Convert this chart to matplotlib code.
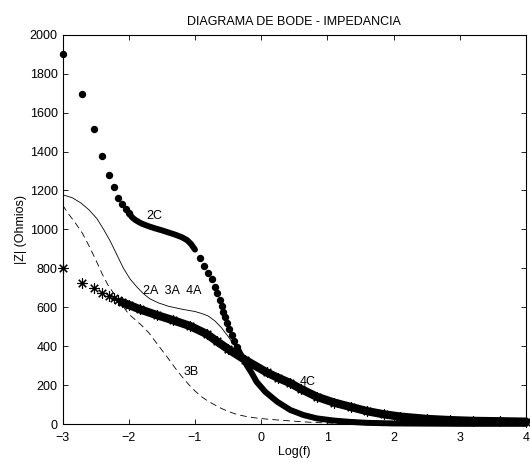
import numpy as np
import matplotlib
matplotlib.use('Agg')
import matplotlib.pyplot as plt

plt.rcParams['font.family'] = ['Liberation Sans', 'DejaVu Sans']
plt.rcParams['font.size'] = 9

# curva 2C: puntos sueltos y tramos densos
c2_logf_pts = [-3.0, -2.70, -2.52, -2.40, -2.30, -2.22, -2.155, -2.097, -2.046, -2.0,
               -0.923, -0.858, -0.798, -0.746, -0.701, -0.662, -0.621, -0.595, -0.571,
               -0.541, -0.511, -0.480, -0.444, -0.409, -0.369]
c2_z_pts = [1900, 1698, 1517, 1378, 1277, 1216, 1162, 1131, 1104, 1085,
            854, 813, 777, 743, 705, 671, 637, 606, 577,
            548, 517, 486, 457, 428, 397]
c2_logf_band1 = [-2.0, -1.95, -1.9, -1.85, -1.8, -1.7, -1.6, -1.5, -1.4, -1.3, -1.2, -1.12, -1.06, -1.0]
c2_z_band1 = [1085, 1062, 1048, 1038, 1029, 1016, 1005, 995, 984, 973, 960, 945, 925, 896]
c2_logf_band2 = [-0.37, -0.29, -0.22, -0.14, -0.07, 0.06, 0.24, 0.44, 0.64, 0.84, 1.09, 1.34,
                 1.6, 2.0, 2.5, 3.0, 3.5, 4.0]
c2_z_band2 = [397, 346, 303, 260, 217, 166, 115, 72, 46, 29, 18, 11, 6, 3, 2, 1, 1, 1]

# curva 4C (asteriscos)
c4_logf_pts = [-3.0, -2.70, -2.52, -2.40, -2.30, -2.22, -2.155]
c4_z_pts = [803, 726, 697, 671, 657, 646, 637]
c4_logf_band = [-2.1, -2.0, -1.83, -1.58, -1.33, -1.07, -0.82, -0.67, -0.5, -0.24, 0.085,
                0.25, 0.44, 0.6, 0.84, 1.1, 1.35, 1.6, 1.85, 2.1, 2.5, 2.85, 3.2, 3.6, 4.0]
c4_z_band = [625, 612, 589, 560, 533, 503, 462, 425, 385, 329, 265,
             238, 210, 180, 140, 110, 88, 66, 50, 38, 26, 20, 16, 14, 12]

# curvas 2A 3A 4A (continua) y 3B (discontinua)
a_logf = [-3.0, -2.85, -2.72, -2.6, -2.48, -2.38, -2.28, -2.18, -2.08, -1.98, -1.88, -1.78,
          -1.68, -1.55, -1.4, -1.2, -1.0, -0.9, -0.8, -0.7, -0.6, -0.5, -0.42, -0.35, -0.28,
          -0.2, -0.1, 0.0, 0.15, 0.3, 0.5, 0.75, 1.0, 1.5, 2.0, 3.0, 4.0]
a_z = [1178, 1162, 1135, 1100, 1055, 1000, 940, 870, 800, 745, 705, 670,
       643, 622, 605, 590, 578, 568, 555, 530, 495, 450, 412, 380, 345,
       300, 250, 205, 150, 105, 62, 32, 16, 6, 2, 0.5, 0]
b_logf = [-3.0, -2.9, -2.8, -2.7, -2.6, -2.5, -2.4, -2.3, -2.2, -2.1, -2.0, -1.9, -1.8, -1.7,
          -1.6, -1.5, -1.4, -1.3, -1.2, -1.1, -1.0, -0.9, -0.8, -0.7, -0.6, -0.5, -0.4, -0.3,
          -0.2, -0.1, 0.0, 0.2, 0.4, 0.6, 0.8, 1.0, 1.5, 2.0, 3.0, 4.0]
b_z = [1125, 1075, 1030, 980, 915, 845, 770, 705, 660, 610, 565, 535, 505, 470,
       425, 380, 335, 288, 245, 205, 170, 140, 117, 98, 80, 65, 53, 44,
       37, 32, 28, 22, 17, 12, 8, 5, 2, 1, 0, 0]

etiquetas = ['2C', '2A  3A  4A', '3B', '4C']
etiq_x = [-1.61, -1.35, -1.06, 0.71]
etiq_y = [1068, 683, 269, 218]

fig = plt.figure(figsize=(5.30, 4.63), dpi=100)
ax = fig.add_axes([0.118, 0.0842, 0.8745, 0.8408])

ax.plot(a_logf, a_z, '-', color='k', lw=0.6)
ax.plot(b_logf, b_z, '--', color='k', lw=0.6, dashes=(8, 5))

estrella = (8, 2, 0)
ax.plot(c4_logf_band, c4_z_band, '-', color='k', lw=6, solid_capstyle='round', clip_on=False)
ax.plot(c4_logf_band, c4_z_band, ls='none', marker=estrella, ms=7.5, mec='k', mew=0.8, clip_on=False)
ax.plot(c4_logf_pts, c4_z_pts, ls='none', marker=estrella, ms=7.5, mec='k', mew=0.8, clip_on=False)

ax.plot(c2_logf_band1, c2_z_band1, '-', color='k', lw=4.3, solid_capstyle='round', clip_on=False)
ax.plot(c2_logf_band2, c2_z_band2, '-', color='k', lw=4.3, solid_capstyle='round', clip_on=False)
ax.plot(c2_logf_pts, c2_z_pts, 'o', color='k', ms=4.3, clip_on=False)

for t, x, y in zip(etiquetas, etiq_x, etiq_y):
    ax.text(x, y, t, ha='center', va='center', fontsize=9)

ax.set_xlim(-3, 4)
ax.set_ylim(0, 2000)
ax.set_xticks(range(-3, 5))
ax.set_yticks(range(0, 2001, 200))
ax.tick_params(direction='in', top=True, right=True, length=3.5, width=0.6)
ax.tick_params(axis='x', pad=6)
for s in ax.spines.values():
    s.set_linewidth(0.8)

ax.set_title('DIAGRAMA DE BODE - IMPEDANCIA', fontsize=9, pad=7)
ax.set_xlabel('Log(f)', labelpad=1)
ax.set_ylabel('|Z| (Ohmios)', labelpad=2)

fig.savefig('out.png', dpi=100)
